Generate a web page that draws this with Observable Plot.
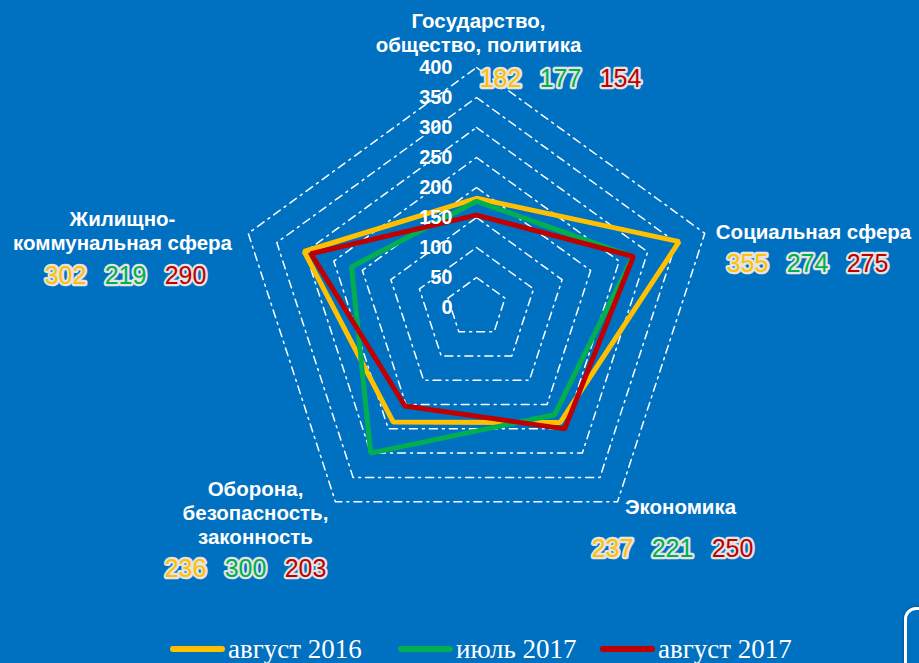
<!DOCTYPE html>
<html>
<head>
<meta charset="utf-8">
<script src="https://cdn.jsdelivr.net/npm/d3@7"></script>
<script src="https://cdn.jsdelivr.net/npm/@observablehq/plot@0.6"></script>
<style>
  html, body { margin: 0; padding: 0; background: #0070C0; overflow: hidden; }
  #wrap { position: relative; width: 919px; height: 663px; }
  #legend { position: absolute; left: 0; top: 628px; width: 919px; height: 35px; }
  .item { position: absolute; top: 6px; display: flex; align-items: center; font-family: "Liberation Serif", "DejaVu Serif", serif; font-size: 27px; color: #fff; line-height: 30px; }
  .sw { width: 55px; height: 6px; border-radius: 3px; margin-right: 3px; }
  #corner { position: absolute; left: 904px; top: 607px; width: 40px; height: 80px; border: 3px solid #fff; border-radius: 12px; box-shadow: 0 0 3px rgba(0,0,0,0.4); }
</style>
</head>
<body>
<div id="wrap">
  <div id="chart"></div>
  <div id="legend"></div>
  <div id="corner"></div>
</div>
<script>
// ---- data ----
const categories = ["Государство,\nобщество, политика", "Социальная сфера", "Экономика", "Оборона,\nбезопасность,\nзаконность", "Жилищно-\nкоммунальная сфера"];
const seriesNames = ["август 2016", "июль 2017", "август 2017"];
const aug2016 = [182, 355, 237, 236, 302];
const jul2017 = [177, 274, 221, 300, 219];
const aug2017 = [154, 275, 250, 203, 290];
const tickValues = [0, 50, 100, 150, 200, 250, 300, 350, 400];
const colors = ["#FFC000", "#00B050", "#C00000"];

// ---- layout (pixels) ----
const W = 919, H = 628, cx = 476, cy = 307, k = 0.6; // px per unit
const nameOffsets = [[2, -275], [337, -76], [204, 199], [-221, 205], [-354, -77]];
const valueOffsets = [[24, -229], [271, -44], [136, 241], [-291, 261], [-411, -32]];
const valueStep = 60;

const seriesValues = [aug2016, jul2017, aug2017];
const ang = i => (90 - 72 * i) * Math.PI / 180;

const grid = [];
tickValues.filter(t => t > 0).forEach(t => categories.forEach((c, i) => grid.push({level: t, x: t * Math.cos(ang(i)), y: t * Math.sin(ang(i))})));

const lines = [];
seriesNames.forEach((s, j) => seriesValues[j].forEach((v, i) => lines.push({series: s, x: v * Math.cos(ang(i)), y: v * Math.sin(ang(i))})));

const names = categories.map((c, i) => ({text: c, x: nameOffsets[i][0] / k, y: -nameOffsets[i][1] / k}));
const vals = [];
categories.forEach((c, i) => seriesNames.forEach((s, j) => vals.push({
  text: String(seriesValues[j][i]), series: s,
  x: (valueOffsets[i][0] + j * valueStep) / k, y: -valueOffsets[i][1] / k
})));

const chart = Plot.plot({
  width: W, height: H,
  margin: 0,
  style: {background: "transparent", fontFamily: "'Liberation Sans', Arial, sans-serif"},
  x: {domain: [-cx / k, (W - cx) / k], axis: null},
  y: {domain: [-(H - cy) / k, cy / k], axis: null},
  color: {domain: seriesNames, range: colors},
  marks: [
    Plot.line(grid, {x: "x", y: "y", z: "level", curve: "linear-closed", stroke: "#fff", strokeWidth: 1.5, strokeDasharray: "8,5,2,5"}),
    Plot.line(lines, {x: "x", y: "y", z: "series", stroke: "series", curve: "linear-closed", strokeWidth: 5, strokeLinejoin: "miter"}),
    Plot.text(tickValues, {x: 0, y: d => d, text: d => String(d), dx: -24, textAnchor: "end", fill: "#fff", fontWeight: "bold", fontSize: 20}),
    Plot.text(names, {x: "x", y: "y", text: "text", fill: "#fff", fontWeight: "bold", fontSize: 20.5, lineHeight: 1.15, lineAnchor: "middle"}),
    Plot.text(vals, {x: "x", y: "y", text: "text", fill: "series", stroke: "#e4e4e4", strokeWidth: 4.5, strokeLinejoin: "round", paintOrder: "stroke", fontSize: 25, lineAnchor: "middle"})
  ]
});
document.getElementById("chart").appendChild(chart);

// legend
const legendX = [170, 398, 600];
const lg = document.getElementById("legend");
seriesNames.forEach((s, j) => {
  const it = document.createElement("div");
  it.className = "item";
  it.style.left = legendX[j] + "px";
  const sw = document.createElement("div");
  sw.className = "sw";
  sw.style.background = colors[j];
  it.appendChild(sw);
  const t = document.createElement("span");
  t.textContent = s;
  it.appendChild(t);
  lg.appendChild(it);
});
</script>
</body>
</html>
